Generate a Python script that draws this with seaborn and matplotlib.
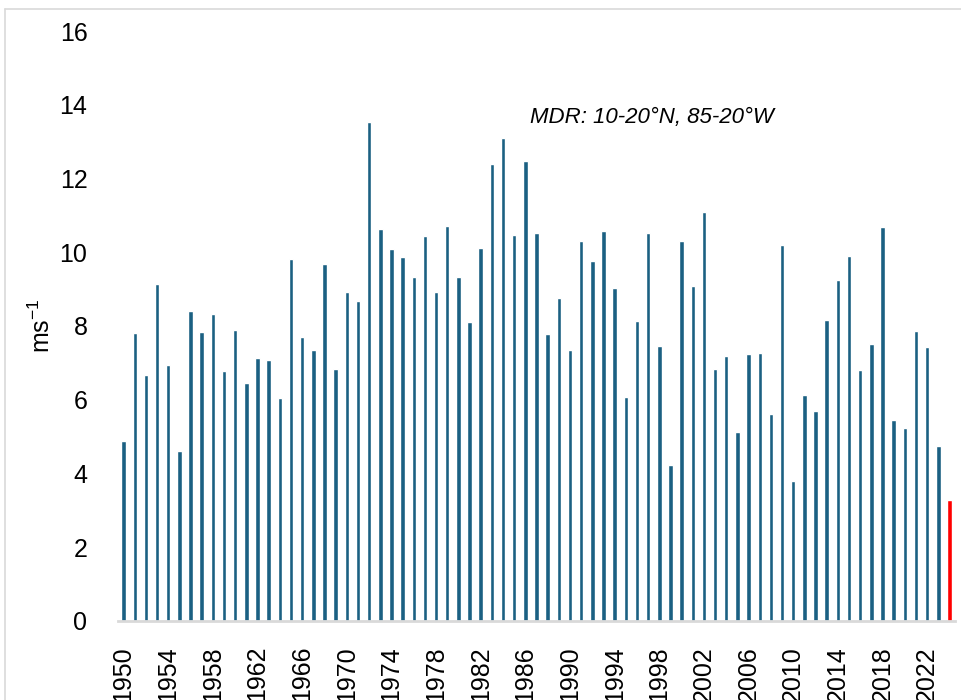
import matplotlib
matplotlib.use("Agg")
import matplotlib.pyplot as plt
import seaborn as sns
from matplotlib.lines import Line2D

# Vertical wind shear over the MDR, one value per year
years = list(range(1950, 2025))
shear = [
    4.87, 7.80, 6.68, 9.15, 6.94, 4.62, 8.41, 7.83, 8.32, 6.78,
    7.88, 6.46, 7.14, 7.07, 6.06, 9.83, 7.71, 7.35, 9.67, 6.83,
    8.93, 8.69, 13.52, 10.62, 10.08, 9.88, 9.33, 10.45, 8.93, 10.71,
    9.33, 8.11, 10.11, 12.40, 13.09, 10.47, 12.48, 10.53, 7.78, 8.75,
    7.35, 10.30, 9.76, 10.58, 9.03, 6.08, 8.14, 10.53, 7.47, 4.24,
    10.30, 9.09, 11.10, 6.83, 7.18, 5.13, 7.23, 7.28, 5.60, 10.21,
    3.79, 6.14, 5.70, 8.17, 9.24, 9.90, 6.81, 7.52, 10.68, 5.45,
    5.22, 7.86, 7.43, 4.74, 3.29,
]
year_labels = [str(y) for y in years]
tick_years = [str(y) for y in range(1950, 2023, 4)]
y_ticks = [0, 2, 4, 6, 8, 10, 12, 14, 16]

bar_color = "#1b6082"
highlight = "#ff0000"
colors = {lab: (highlight if lab == "2024" else bar_color) for lab in year_labels}

sns.set_style("white")
plt.rcParams["font.family"] = ["Liberation Sans", "DejaVu Sans"]
plt.rcParams["mathtext.default"] = "regular"
# plain black text like the original
plt.rcParams["text.color"] = "black"
plt.rcParams["axes.labelcolor"] = "black"
plt.rcParams["xtick.color"] = "black"
plt.rcParams["ytick.color"] = "black"

fig = plt.figure(figsize=(9.61, 7.0), dpi=100)
ax = fig.add_axes([0.1228, 0.1129, 0.8710, 0.8428])

sns.barplot(x=year_labels, y=shear, hue=year_labels, palette=colors,
            legend=False, width=0.4, ax=ax, saturation=1)

ax.set_ylim(0, 16)
ax.set_xlim(-0.5, len(years) - 0.5)
ax.set_yticks(y_ticks)
ax.set_yticklabels([str(t) for t in y_ticks], fontsize=18)
ax.set_xticks([year_labels.index(t) for t in tick_years])
ax.set_xticklabels(tick_years, rotation=90, fontsize=18)
ax.tick_params(axis="y", length=0, pad=22)
ax.tick_params(axis="x", length=0, pad=18)

for side in ["top", "right", "left"]:
    ax.spines[side].set_visible(False)
ax.spines["bottom"].set_color("#d9d9d9")
ax.spines["bottom"].set_linewidth(2)

ax.set_xlabel("")
ax.set_ylabel("ms$^{-1}$", fontsize=18, labelpad=3)

ax.text(0.492, 13.66, "MDR: 10-20°N, 85-20°W", transform=ax.get_yaxis_transform(),
        fontsize=16, style="italic", va="center", ha="left")

# light frame round the picture (only top and left edges show)
fig.add_artist(Line2D([5 / 961, 1], [1 - 9 / 700, 1 - 9 / 700], color="#d9d9d9", lw=1.2))
fig.add_artist(Line2D([5 / 961, 5 / 961], [0, 1 - 9 / 700], color="#d9d9d9", lw=1.2))

fig.savefig("out.png", dpi=100)
